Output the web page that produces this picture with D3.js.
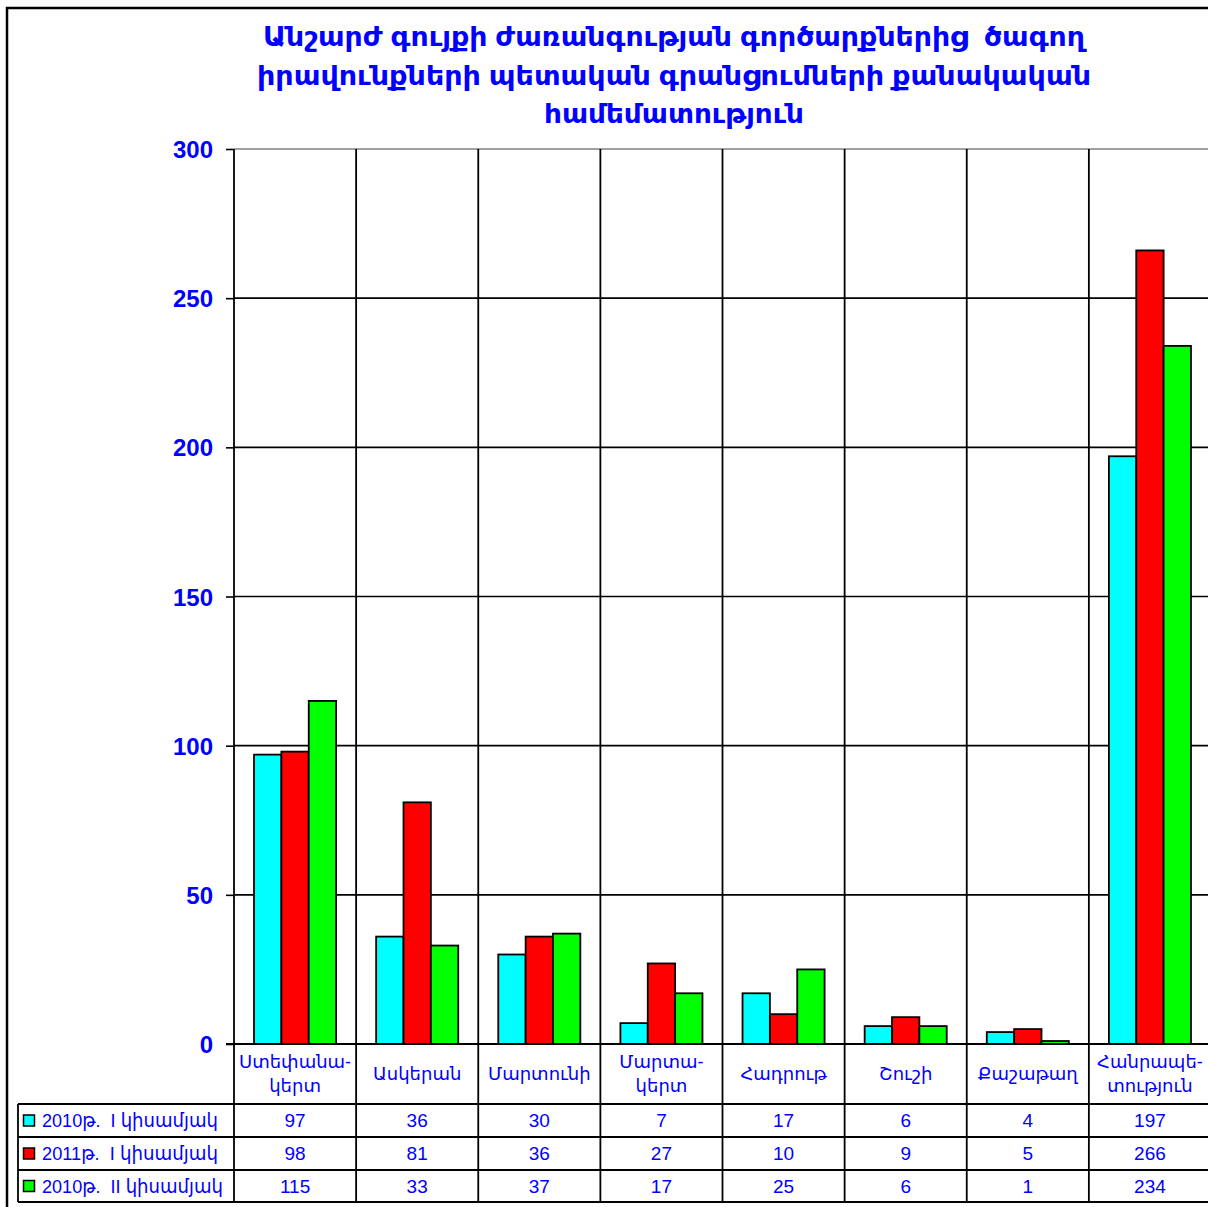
<!DOCTYPE html>
<html><head><meta charset="utf-8">
<script src="https://cdn.jsdelivr.net/npm/d3@7"></script>
<style>
html,body{margin:0;padding:0;background:#fff;}
svg{display:block;}
text{white-space:pre;}
</style></head>
<body>
<svg id="chart" width="1208" height="1207"></svg>
<script>
const categories = [["Ստեփանա-","կերտ"],["Ասկերան"],["Մարտունի"],["Մարտա-","կերտ"],["Հադրութ"],["Շուշի"],["Քաշաթաղ"],["Հանրապե-","տություն"]];
const seriesNames = ["2010թ.  I կիսամյակ","2011թ.  I կիսամյակ","2010թ.  II կիսամյակ"];
const seriesColors = ["#00ffff","#ff0000","#00ff00"];
const values2010H1 = [97,36,30,7,17,6,4,197];
const values2011H1 = [98,81,36,27,10,9,5,266];
const values2010H2 = [115,33,37,17,25,6,1,234];
const yTicks = [0,50,100,150,200,250,300];
const titleLines = ["Անշարժ գույքի ժառանգության գործարքներից  ծագող","իրավունքների պետական գրանցումների քանակական","համեմատություն"];

const series = [values2010H1, values2011H1, values2010H2];
const svg = d3.select("#chart");
const blue = "#0000ff";
const font = "Arial, 'Liberation Sans', 'DejaVu Sans', sans-serif";

const L = 234, T = 149, B = 1044, R = 1211;
const rowY = [1104, 1137, 1170, 1202];
const tableLeft = 18;

const x = d3.scaleBand().domain(d3.range(categories.length)).range([L, R]).paddingInner(0).paddingOuter(0);
const y = d3.scaleLinear().domain([0, 300]).range([B, T]);
const groupW = x.bandwidth() * 0.672;
const sub = d3.scaleBand().domain(d3.range(series.length)).range([(x.bandwidth()-groupW)/2, (x.bandwidth()+groupW)/2]).padding(0);

// outer border
svg.append("path").attr("d", `M7,1207 V8 H1208`).attr("fill","none").attr("stroke","#000").attr("stroke-width",2.5);

// title
const title = svg.append("g").attr("font-family", font).attr("font-weight","bold").attr("fill", blue).attr("font-size", 26);
const titleW = [822, 834, 260];
titleLines.forEach((t,i)=>{
  title.append("text").attr("x", 674).attr("y", 46 + i*38.5).attr("text-anchor","middle")
    .attr("xml:space","preserve")
    .attr("textLength", titleW[i]).attr("lengthAdjust","spacingAndGlyphs").text(t);
});

// horizontal gridlines
svg.append("g").selectAll("line").data(yTicks.filter(d=>d>0)).join("line")
  .attr("x1", L).attr("x2", 1208).attr("y1", d=>y(d)).attr("y2", d=>y(d))
  .attr("stroke", d=> d===300 ? "#808080" : "#000").attr("stroke-width", 1.6);

// y axis
const yAxis = svg.append("g").attr("transform", `translate(${L},0)`)
  .call(d3.axisLeft(y).tickValues(yTicks).tickSize(8).tickPadding(13).tickFormat(d3.format("d")));
yAxis.select(".domain").remove();
yAxis.selectAll(".tick line").attr("stroke","#000").attr("stroke-width",1.6);
yAxis.selectAll(".tick text").attr("fill", blue).attr("font-family", font).attr("font-weight","bold").attr("font-size", 24).attr("dy","0.36em");

// bars
const g = svg.append("g");
series.forEach((vals, si)=>{
  g.append("g").selectAll("rect").data(vals).join("rect")
    .attr("x", (d,i)=> x(i) + sub(si))
    .attr("y", d=> y(d))
    .attr("width", sub.bandwidth())
    .attr("height", d=> y(0) - y(d))
    .attr("fill", seriesColors[si]).attr("stroke","#000").attr("stroke-width",1.8);
});

// vertical dividers (category boundaries) down through table
const bounds = d3.range(categories.length + 1).map(i => i < categories.length ? x(i) : x(categories.length-1) + x.bandwidth());
svg.append("g").selectAll("line").data(bounds).join("line")
  .attr("x1", d=>d).attr("x2", d=>d).attr("y1", T).attr("y2", rowY[3])
  .attr("stroke","#000").attr("stroke-width",1.8);

// zero line
svg.append("line").attr("x1", L-8).attr("x2", 1208).attr("y1", B).attr("y2", B).attr("stroke","#000").attr("stroke-width",1.8);

// table lines
rowY.forEach(yy=>{
  svg.append("line").attr("x1", tableLeft).attr("x2", 1208).attr("y1", yy).attr("y2", yy).attr("stroke","#000").attr("stroke-width",1.8);
});
svg.append("line").attr("x1", tableLeft).attr("x2", tableLeft).attr("y1", rowY[0]).attr("y2", rowY[3]).attr("stroke","#000").attr("stroke-width",1.8);

// category labels
const cat = svg.append("g").attr("font-family", font).attr("fill", blue).attr("font-size", 18).attr("text-anchor","middle");
categories.forEach((lines, i)=>{
  const cx = x(i) + x.bandwidth()/2;
  const n = lines.length;
  lines.forEach((ln, j)=>{
    const cy = (B + rowY[0]) / 2 + (j - (n-1)/2) * 24;
    cat.append("text").attr("x", cx).attr("y", cy).attr("dy","0.35em").text(ln);
  });
});

// table values
const legendW = [176, 176, 181];
const tv = svg.append("g").attr("font-family", font).attr("fill", blue).attr("font-size", 19).attr("text-anchor","middle");
series.forEach((vals, si)=>{
  const cy = (rowY[si] + rowY[si+1]) / 2;
  vals.forEach((v, i)=>{
    tv.append("text").attr("x", x(i) + x.bandwidth()/2).attr("y", cy).attr("dy","0.36em").text(v);
  });
  // legend key
  svg.append("rect").attr("x", 23.5).attr("y", cy - 5.5).attr("width", 11).attr("height", 11)
    .attr("fill", seriesColors[si]).attr("stroke","#000").attr("stroke-width",1.5);
  svg.append("text").attr("x", 42).attr("y", cy).attr("dy","0.36em")
    .attr("font-family", font).attr("font-size", 19).attr("fill", blue).attr("xml:space","preserve")
    .attr("textLength", legendW[si]).attr("lengthAdjust","spacingAndGlyphs")
    .text(seriesNames[si]);
});
</script>
</body></html>
